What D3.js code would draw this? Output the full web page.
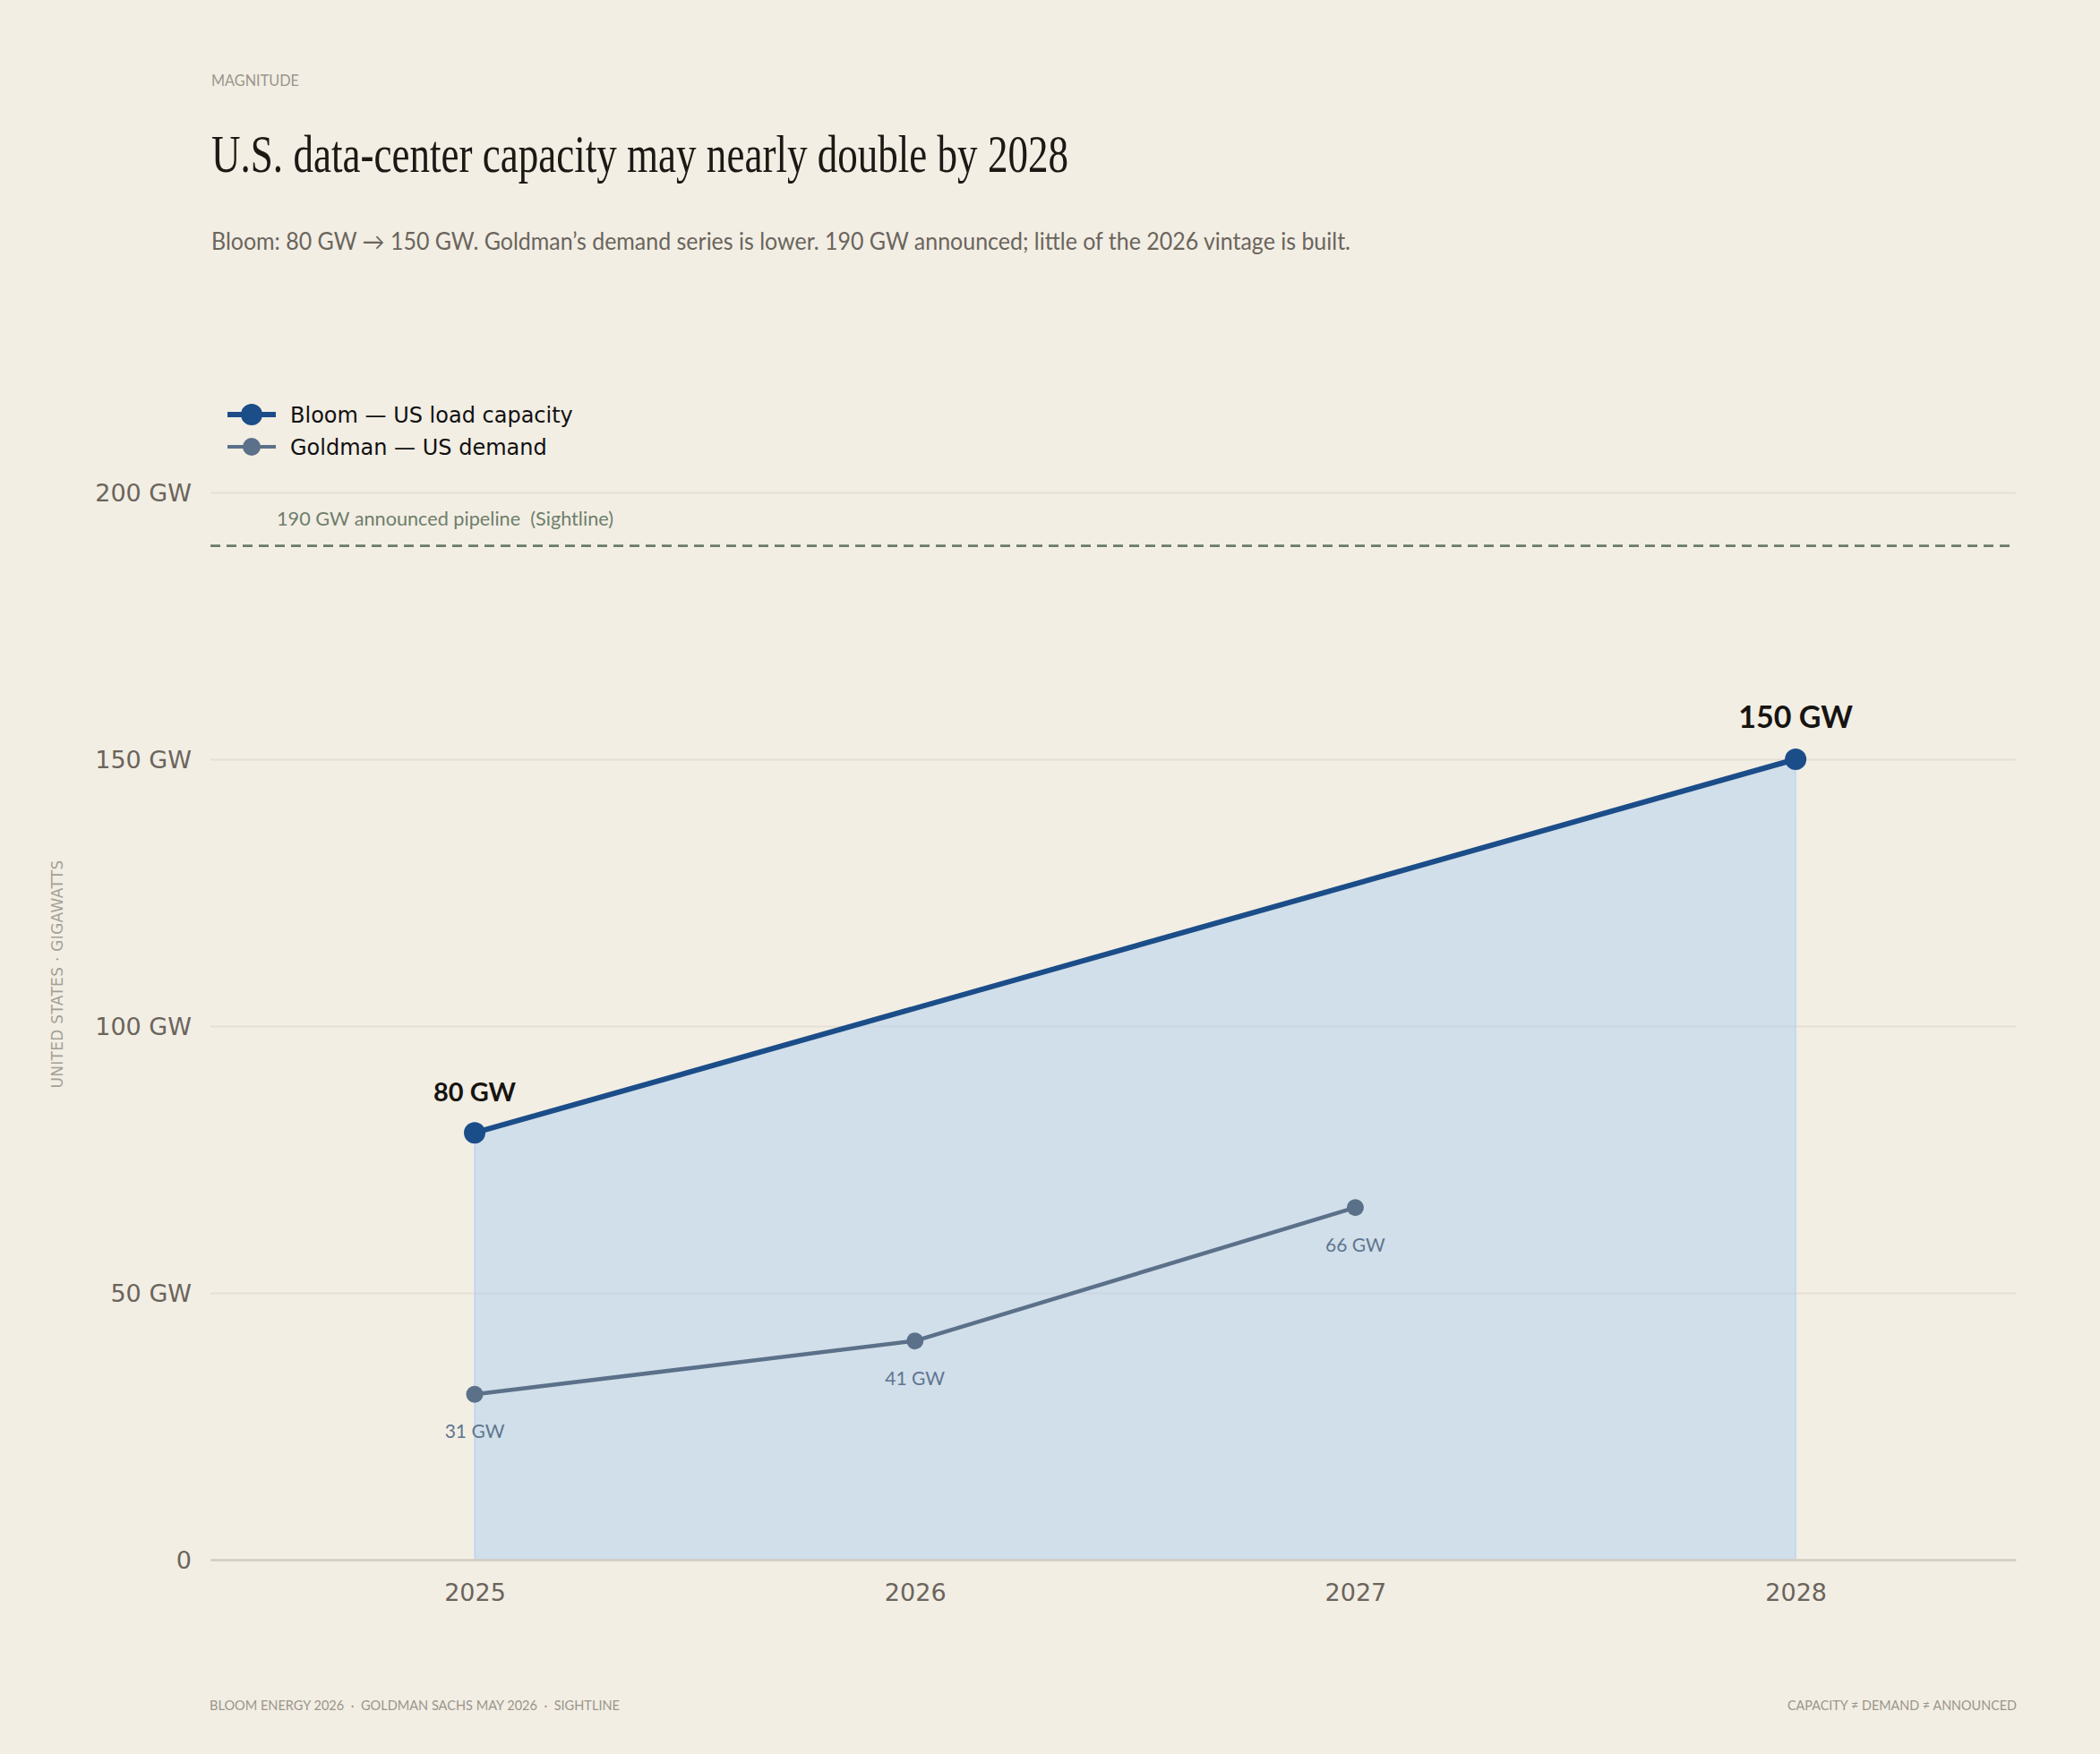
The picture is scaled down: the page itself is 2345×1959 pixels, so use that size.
<!DOCTYPE html>
<html>
<head>
<meta charset="utf-8">
<script src="https://cdn.jsdelivr.net/npm/d3@7/dist/d3.min.js"></script>
<style>
  html, body { margin: 0; padding: 0; background: #f2eee4; }
  svg { display: block; }
  text { white-space: pre; }
</style>
</head>
<body>
<svg id="chart" width="2345" height="1959"></svg>
<script>
// ---- Data ----
const years = [2025, 2026, 2027, 2028];
const bloomYears = [2025, 2028];
const bloomValues = [80, 150];
const goldmanYears = [2025, 2026, 2027];
const goldmanValues = [31, 41, 66];
const yTicks = [0, 50, 100, 150, 200];
const pipelineValue = 190;
const pipelineLabel = "190 GW announced pipeline  (Sightline)";
const legendLabels = ["Bloom — US load capacity", "Goldman — US demand"];

(function () {
const W = 2345, H = 1959;
const plotLeft = 235, plotRight = 2251, plotBottom = 1742, plotTop = 550;
const bgColor = "#f2eee4";
const bloomColor = "#1b4d89";
const goldColor = "#5b7089";

const svg = d3.select("#chart");
svg.append("rect").attr("width", W).attr("height", H).attr("fill", bgColor);

const x = d3.scaleLinear().domain([2024.4, 2028.5]).range([plotLeft, plotRight]);
const y = d3.scaleLinear().domain([0, 200]).range([plotBottom, plotTop]);

const bloom = bloomYears.map((yr, i) => ({ year: yr, value: bloomValues[i] }));
const gold = goldmanYears.map((yr, i) => ({ year: yr, value: goldmanValues[i] }));

// ---- Header ----
svg.append("text").attr("x", 236).attr("y", 96)
  .attr("font-family", "Lato").attr("font-size", 18).attr("fill", "#9b958b")
  .attr("textLength", 98).attr("lengthAdjust", "spacingAndGlyphs")
  .text("MAGNITUDE");
svg.append("text").attr("x", 236).attr("y", 192)
  .attr("font-family", "Liberation Serif").attr("font-size", 59).attr("fill", "#1c1915")
  .attr("textLength", 957).attr("lengthAdjust", "spacingAndGlyphs")
  .text("U.S. data-center capacity may nearly double by 2028");
svg.append("text").attr("x", 236).attr("y", 279)
  .attr("font-family", "Lato").attr("font-size", 26).attr("fill", "#6b655c")
  .attr("textLength", 1272).attr("lengthAdjust", "spacingAndGlyphs")
  .text("Bloom: 80 GW → 150 GW. Goldman’s demand series is lower. 190 GW announced; little of the 2026 vintage is built.");

// ---- Gridlines & y axis ----
const yAxis = d3.axisLeft(y).tickValues(yTicks)
  .tickSize(-(plotRight - plotLeft)).tickPadding(21)
  .tickFormat(d => d === 0 ? "0" : d + " GW");
const gy = svg.append("g").attr("transform", `translate(${plotLeft},0)`).call(yAxis);
gy.select(".domain").remove();
gy.selectAll(".tick line").attr("stroke", "#e6dfd3").attr("stroke-width", 2);
gy.selectAll(".tick text").attr("font-family", "DejaVu Sans").attr("font-size", 27)
  .attr("fill", "#6b645c").attr("dy", "0.35em");

// ---- Y axis title ----
svg.append("text").attr("transform", "translate(70,1088) rotate(-90)")
  .attr("text-anchor", "middle").attr("font-family", "DejaVu Sans")
  .attr("font-size", 17).attr("letter-spacing", 0.3).attr("fill", "#a59f95")
  .text("UNITED STATES · GIGAWATTS");

// ---- Area under Bloom ----
const area = d3.area().x(d => x(d.year)).y0(y(0)).y1(d => y(d.value));
svg.append("path").datum(bloom).attr("d", area)
  .attr("fill", "rgb(176,208,240)").attr("fill-opacity", 0.5)
  .attr("stroke", "rgb(176,208,240)").attr("stroke-opacity", 0.5).attr("stroke-width", 2);

// ---- Baseline axis ----
const xAxis = d3.axisBottom(x).tickValues(years).tickSize(0).tickPadding(27)
  .tickFormat(d3.format("d"));
const gx = svg.append("g").attr("transform", `translate(0,${plotBottom})`).call(xAxis);
gx.select(".domain").attr("stroke", "#d4cdc2").attr("stroke-width", 2.5);
gx.selectAll(".tick text").attr("font-family", "DejaVu Sans").attr("font-size", 27)
  .attr("fill", "#6b645c").attr("dy", "0.71em");

// ---- Pipeline dashed line ----
svg.append("line").attr("x1", plotLeft).attr("x2", plotRight)
  .attr("y1", y(pipelineValue)).attr("y2", y(pipelineValue))
  .attr("stroke", "#6c7a69").attr("stroke-width", 2.6).attr("stroke-dasharray", "11,7");
svg.append("text").attr("x", 309).attr("y", y(pipelineValue) - 23)
  .attr("font-family", "Lato").attr("font-size", 21).attr("fill", "#6f7e6b")
  .attr("textLength", 376).attr("lengthAdjust", "spacingAndGlyphs")
  .text(pipelineLabel);

// ---- Goldman line ----
const line = d3.line().x(d => x(d.year)).y(d => y(d.value));
svg.append("path").datum(gold).attr("d", line).attr("fill", "none")
  .attr("stroke", goldColor).attr("stroke-width", 4.5).attr("stroke-linejoin", "round");
svg.selectAll(".gdot").data(gold).enter().append("circle")
  .attr("cx", d => x(d.year)).attr("cy", d => y(d.value)).attr("r", 9.5)
  .attr("fill", goldColor);
svg.selectAll(".glabel").data(gold).enter().append("text")
  .attr("x", d => x(d.year)).attr("y", d => y(d.value) + 49)
  .attr("text-anchor", "middle").attr("font-family", "Lato").attr("font-size", 21)
  .attr("fill", "#5f7590").text(d => d.value + " GW");

// ---- Bloom line ----
svg.append("path").datum(bloom).attr("d", line).attr("fill", "none")
  .attr("stroke", bloomColor).attr("stroke-width", 6).attr("stroke-linejoin", "round");
svg.selectAll(".bdot").data(bloom).enter().append("circle")
  .attr("cx", d => x(d.year)).attr("cy", d => y(d.value)).attr("r", 12)
  .attr("fill", bloomColor);
svg.selectAll(".blabel").data(bloom).enter().append("text")
  .attr("x", d => x(d.year)).attr("y", d => y(d.value) - 35)
  .attr("text-anchor", "middle").attr("font-family", "Lato").attr("font-weight", 700)
  .attr("font-size", (d, i) => i === bloom.length - 1 ? 34 : 29)
  .attr("fill", "#171411").text(d => d.value + " GW");

// ---- Legend ----
const legendItems = [
  { label: legendLabels[0], color: bloomColor, r: 12, w: 6, cy: 463 },
  { label: legendLabels[1], color: goldColor, r: 10, w: 4, cy: 499 }
];
const lg = svg.append("g");
legendItems.forEach(it => {
  lg.append("line").attr("x1", 254).attr("x2", 308).attr("y1", it.cy).attr("y2", it.cy)
    .attr("stroke", it.color).attr("stroke-width", it.w);
  lg.append("circle").attr("cx", 281).attr("cy", it.cy).attr("r", it.r).attr("fill", it.color);
  lg.append("text").attr("x", 324).attr("y", it.cy).attr("dy", "0.36em")
    .attr("font-family", "DejaVu Sans").attr("font-size", 24).attr("fill", "#111111")
    .text(it.label);
});

// ---- Footer ----
svg.append("text").attr("x", 234).attr("y", 1910)
  .attr("font-family", "Lato").attr("font-size", 15).attr("fill", "#9b958b")
  .attr("textLength", 458).attr("lengthAdjust", "spacingAndGlyphs")
  .text("BLOOM ENERGY 2026  ·  GOLDMAN SACHS MAY 2026  ·  SIGHTLINE");
svg.append("text").attr("x", 2252).attr("y", 1910).attr("text-anchor", "end")
  .attr("font-family", "Lato").attr("font-size", 15).attr("fill", "#9b958b")
  .attr("textLength", 256).attr("lengthAdjust", "spacingAndGlyphs")
  .text("CAPACITY ≠ DEMAND ≠ ANNOUNCED");
})();
</script>
</body>
</html>
